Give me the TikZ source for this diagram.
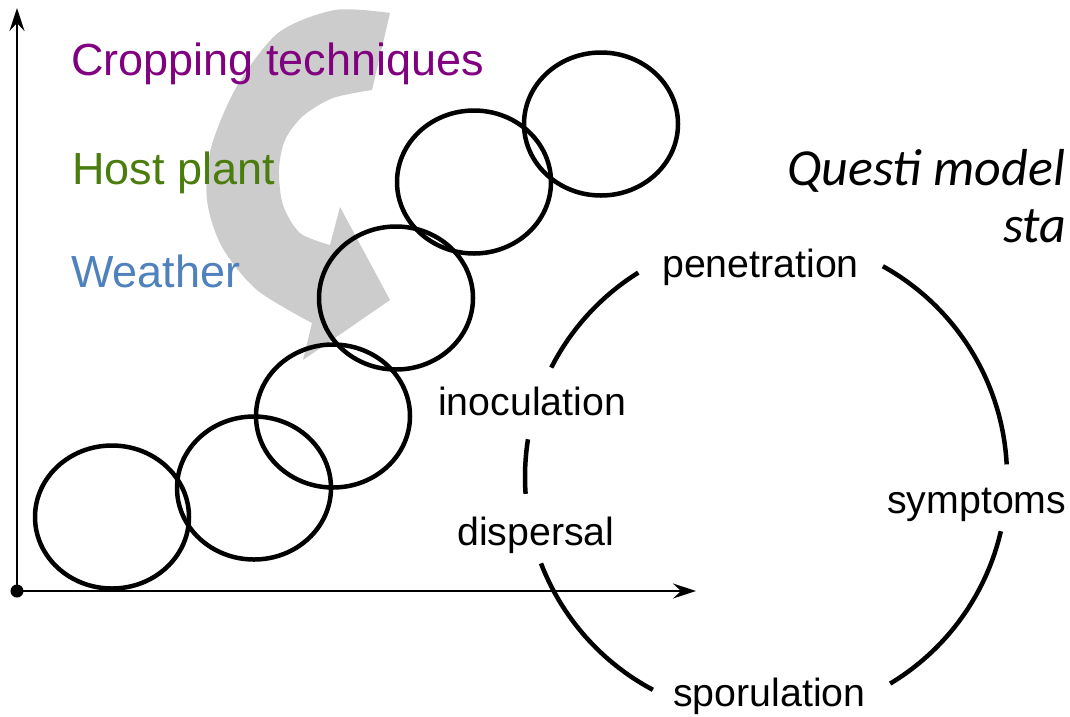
\documentclass[tikz,border=0pt]{standalone}
\usepackage{fontspec}
\setmainfont{Liberation Sans}
\newfontfamily\notefont{Carlito}
\usetikzlibrary{arrows.meta}
\definecolor{cpurple}{HTML}{800080}
\definecolor{cgreen}{HTML}{4A7D0E}
\definecolor{cblue}{HTML}{4F81BD}
\definecolor{cgrey}{HTML}{CCCCCC}
\tikzset{
  factor/.style={anchor=base west, inner sep=0pt, font=\fontsize{45}{54}\selectfont},
  stage/.style={anchor=base west, inner sep=0pt, font=\fontsize{39.3}{47}\selectfont},
  title/.style={anchor=base west, inner sep=0pt, font=\notefont\itshape\fontsize{52}{62}\selectfont},
  ring/.style={draw=black, line width=4.5pt},
  cycle/.style={draw=black, line width=4.5pt},
  axis/.style={-{Stealth[length=23pt, width=15pt, inset=8pt]}, line width=2.4pt},
}
\begin{document}
\begin{tikzpicture}[x=1pt, y=1pt]
  \useasboundingbox (0,0) rectangle (1070,-716);
  % curved grey arrow behind the factors
  \fill[cgrey] plot[smooth] coordinates {(390,-13) (335,-10) (278,-33) (236,-88) (211,-148) (207,-200) (222,-247) (257,-290) (312,-323)}
    -- (303,-360) -- (390,-300) -- (340,-207) -- (330,-245)
    -- plot[smooth] coordinates {(330,-245) (300,-233) (283,-205) (279,-170) (285,-140) (303,-116) (333,-98) (372,-90)} -- cycle;
  % factors
  \node[factor, text=cpurple] (crop) at (71,-75) {Cropping techniques};
  \node[factor, text=cgreen] (host) at (72,-184) {Host plant};
  \node[factor, text=cblue] (weather) at (71,-287) {Weather};
  % axes
  \coordinate (O) at (17,-591);
  \coordinate (ytop) at (17,-8);
  \coordinate (xend) at (696,-591);
  \draw[axis] (O) -- (ytop);
  \draw[axis] (O) -- (xend);
  \fill (O) circle (6.5);
  % epidemic rings
  \foreach \cx/\cy in {112/517, 254/488, 333/416, 396/298, 474/182, 601/124}
    \draw[ring] (\cx,-\cy) ellipse [x radius=77, y radius=71.5];
  % infection cycle
  \coordinate (c) at (766,-477);
  \foreach \a/\b in {122/153, 171/184, 201/242, 301/347, 3/61}
    \draw[cycle] (c) ++(\a:241) arc [start angle=\a, end angle=\b, radius=241];
  \node[stage] (pen) at (662,-277) {penetration};
  \node[stage] (inoc) at (438,-415) {inoculation};
  \node[stage] (disp) at (457,-545) {dispersal};
  \node[stage] (symp) at (887,-513) {symptoms};
  \node[stage] (spor) at (673,-706) {sporulation};
  % model title
  \node[title] (qm) at (787,-185) {Questi model};
  \node[title] (st) at (1003,-242) {sta};
\end{tikzpicture}
\end{document}
